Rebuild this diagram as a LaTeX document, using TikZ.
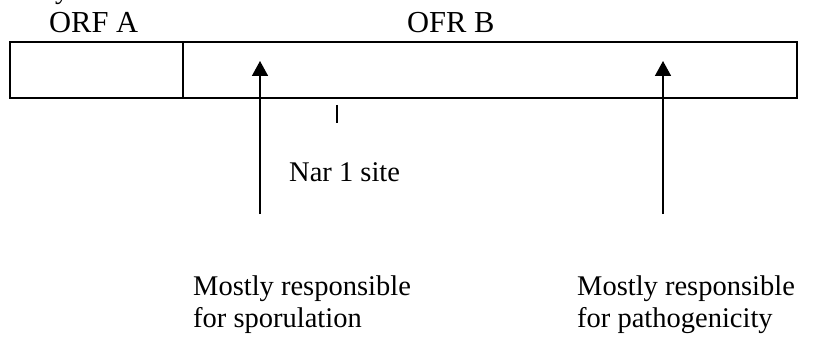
\documentclass[tikz,border=0pt]{standalone}
\usepackage{fontspec}
\setmainfont{Liberation Serif}
\usetikzlibrary{arrows.meta}
\tikzset{
  lbl/.style={inner sep=0pt, anchor=base west, font=\fontsize{28.5}{30}\selectfont},
  head/.style={lbl, font=\fontsize{30.5}{32}\selectfont},
  boxline/.style={line width=2pt},
  uparrow/.style={line width=1.6pt, -{Triangle[width=16pt,length=15pt]}},
}
\begin{document}
\begin{tikzpicture}[x=1pt,y=-1pt]
\useasboundingbox (0,0) rectangle (824,339);
% cropped text at top
\node[lbl] (ytop) at (55,-1) {y};
% gene box
\draw[boxline] (10,42) rectangle (797,98);
\draw[boxline] (183,42) -- (183,98);
\node[head] (orfa) at (49,33) {ORF A};
\node[head] (ofrb) at (407,33) {OFR B};
% arrows
\coordinate (a1s) at (260,214);
\coordinate (a1e) at (260,61);
\coordinate (a2s) at (663,214);
\coordinate (a2e) at (663,61);
\draw[uparrow] (a1s) -- (a1e);
\draw[uparrow] (a2s) -- (a2e);
% Nar 1 site tick
\coordinate (t1) at (337,105);
\coordinate (t2) at (337,123);
\draw[line width=1.6pt] (t1) -- (t2);
\node[lbl] (nar) at (289,182) {Nar 1 site};
% labels
\node[lbl] (l1a) at (193,295) {Mostly responsible};
\node[lbl] (l1b) at (193,327) {for sporulation};
\node[lbl] (l2a) at (577,295) {Mostly responsible};
\node[lbl] (l2b) at (577,327) {for pathogenicity};
\end{tikzpicture}
\end{document}
